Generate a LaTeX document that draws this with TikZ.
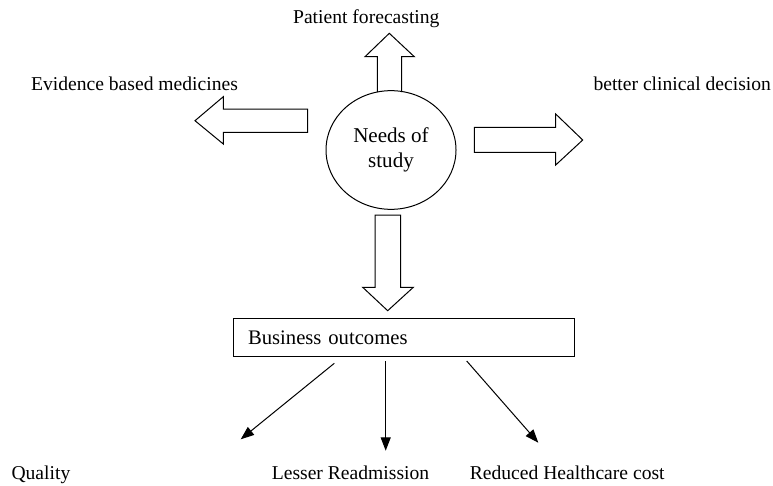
\documentclass[tikz,border=0pt]{standalone}
\usepackage{fontspec}
\setmainfont{Liberation Serif}
\usetikzlibrary{shapes.geometric,arrows.meta}

\tikzset{every picture/.style={line width=0.75pt}}
\tikzset{
  lbl/.style={inner sep=0pt,anchor=base,font=\fontsize{14.7}{18}\selectfont},
  thinarrow/.style={-{Triangle[length=10pt,width=7.5pt]}}
}

\begin{document}
\begin{tikzpicture}[x=0.75pt,y=0.75pt,yscale=-1,xscale=1]
        \useasboundingbox (0,0) rectangle (773,485);

        %Shape: Ellipse [id:needs]
        \node (needs) [draw,ellipse,minimum width=97.5pt,minimum height=89pt,inner sep=0pt,align=center,font=\fontsize{15.8}{18.5}\selectfont] at (391,150) {Needs of\\study};

        %Shape: Up Arrow
        \draw   (377.3,92) -- (377.3,56.7) -- (365,56.7) -- (389.3,33.3) -- (414.3,56.7) -- (401.7,56.7) -- (401.7,92) ;
        %Shape: Left Arrow
        \draw   (307.7,109) -- (223.3,109) -- (223.3,96.7) -- (195,120.7) -- (223.3,144) -- (223.3,132.3) -- (307.7,132.3) -- cycle ;
        %Shape: Right Arrow
        \draw   (474.3,127.3) -- (555.7,127.3) -- (555.7,114) -- (582.7,140) -- (555.7,165) -- (555.7,152.3) -- (474.3,152.3) -- cycle ;
        %Shape: Down Arrow
        \draw   (375,215) -- (400.7,215) -- (400.7,287.3) -- (413.3,287.3) -- (387.7,310.7) -- (362.7,287.3) -- (375,287.3) -- cycle ;

        %Shape: Rectangle [id:outcomes]
        \node (outcomes) [draw,rectangle,minimum height=28.8pt,text width=233.5pt,inner xsep=11pt,align=left,font=\fontsize{15.5}{18}\selectfont] at (403.7,337.5) {Business outcomes};

        %Straight Lines
        \coordinate (q1s) at (334.3,363.3);
        \coordinate (q1e) at (240.7,439.3);
        \coordinate (q2s) at (385.7,361);
        \coordinate (q2e) at (385.7,450.7);
        \coordinate (q3s) at (466.7,361);
        \coordinate (q3e) at (538.3,442.7);
        \draw [thinarrow]   (q1s) -- (q1e) ;
        \draw [thinarrow]   (q2s) -- (q2e) ;
        \draw [thinarrow]   (q3s) -- (q3e) ;

        % Text Node
        \node (forecast) [lbl] at (366.3,24) {Patient forecasting};
        % Text Node
        \node (evidence) [lbl] at (134.5,90.7) {Evidence based medicines};
        % Text Node
        \node (decision) [lbl] at (682.2,90.7) {better clinical decision};
        % Text Node
        \node (quality) [lbl] at (40.9,479) {Quality};
        % Text Node
        \node (readmit) [lbl] at (350.5,479) {Lesser Readmission};
        % Text Node
        \node (cost) [lbl] at (567.2,479) {Reduced Healthcare cost};
\end{tikzpicture}
\end{document}
